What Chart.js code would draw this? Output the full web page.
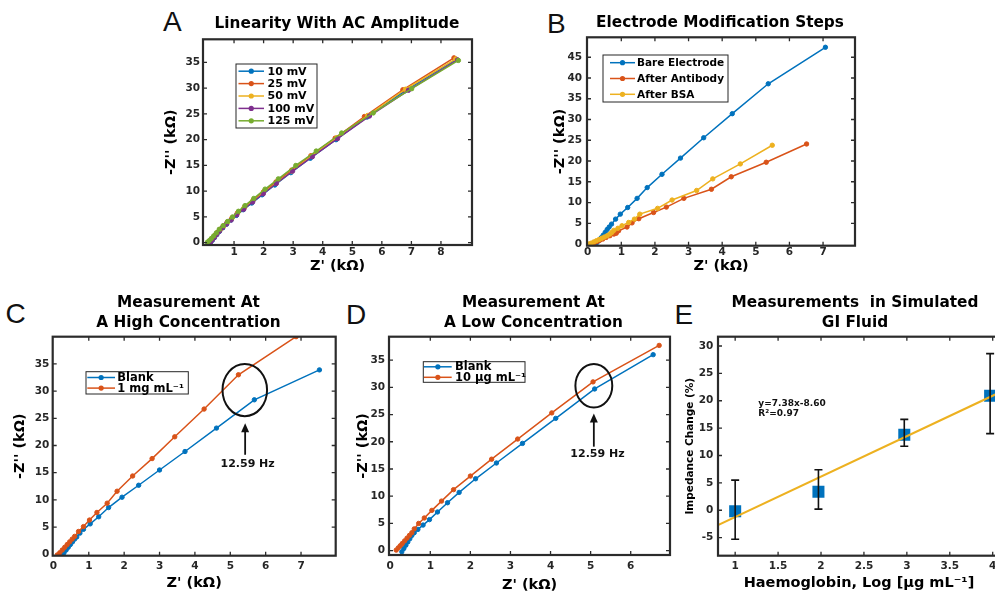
<!DOCTYPE html>
<html><head><meta charset="utf-8">
<script src="https://cdn.jsdelivr.net/npm/chart.js@4.4.1/dist/chart.umd.min.js"></script>
<style>
html,body{margin:0;padding:0;background:#fff;width:995px;height:591px;overflow:hidden;position:relative}
canvas{position:absolute}
.lt{position:absolute;font-family:"Liberation Sans",Arial,sans-serif;font-size:28px;line-height:28px;color:#111;white-space:nowrap}
</style></head><body>
<div class="lt" style="left:163px;top:8.3px">A</div>
<div class="lt" style="left:547px;top:9.6px">B</div>
<div class="lt" style="left:5.5px;top:300px">C</div>
<div class="lt" style="left:346px;top:301px">D</div>
<div class="lt" style="left:674.5px;top:301px">E</div>
<canvas id="cA"></canvas>
<canvas id="cB"></canvas>
<canvas id="cC"></canvas>
<canvas id="cD"></canvas>
<canvas id="cE"></canvas>
<script>
// ---------- Panel A: Linearity With AC Amplitude ----------
const ampLabels = ['10 mV','25 mV','50 mV','100 mV','125 mV'];
const a10x  = [0.21,0.27,0.34,0.42,0.51,0.62,0.75,0.90,1.08,1.31,1.60,1.95,2.38,2.92,3.58,4.45,5.50,6.78,8.52];
const a10y  = [0.1,0.5,1.0,1.6,2.2,2.9,3.6,4.4,5.3,6.4,7.7,9.3,11.2,13.6,16.4,20.0,24.4,29.5,35.6];
const a25x  = [0.18,0.23,0.29,0.36,0.44,0.53,0.64,0.77,0.93,1.12,1.36,1.65,2.00,2.42,2.95,3.60,4.42,5.41,6.71,8.44];
const a25y  = [0.1,0.5,0.95,1.45,2.0,2.6,3.25,4.0,4.8,5.8,6.95,8.3,9.9,11.8,14.1,16.9,20.3,24.5,29.7,35.9];
const a50x  = [0.20,0.27,0.34,0.42,0.52,0.63,0.76,0.91,1.10,1.33,1.62,1.98,2.42,2.96,3.62,4.48,5.52,6.80,8.50];
const a50y  = [0.2,0.7,1.2,1.8,2.4,3.1,3.8,4.6,5.6,6.7,8.0,9.6,11.5,13.9,16.8,20.4,24.7,29.8,35.7];
const a100x = [0.20,0.26,0.33,0.41,0.50,0.61,0.74,0.90,1.09,1.33,1.63,1.99,2.43,2.98,3.65,4.50,5.58,6.90,8.56];
const a100y = [0.1,0.5,1.0,1.6,2.2,2.9,3.6,4.4,5.4,6.5,7.9,9.5,11.5,13.9,16.7,20.2,24.6,29.6,35.5];
const a125x = [0.10,0.16,0.23,0.31,0.40,0.50,0.63,0.78,0.95,1.15,1.37,1.67,2.05,2.50,3.09,3.78,4.64,5.71,7.01,8.59];
const a125y = [0.1,0.4,0.8,1.3,1.9,2.6,3.3,4.1,5.0,6.1,7.2,8.6,10.4,12.4,15.0,17.8,21.3,25.2,29.9,35.4];
const tickAx = [1,2,3,4,5,6,7,8];
const tickAy = [0,5,10,15,20,25,30,35];

// ---------- Panel B: Electrode Modification Steps ----------
const stepLabels = ['Bare Electrode','After Antibody','After BSA'];
const bBareX = [0.22,0.28,0.34,0.40,0.46,0.52,0.58,0.64,0.71,0.83,0.97,1.19,1.47,1.77,2.21,2.76,3.45,4.30,5.37,7.07];
const bBareY = [0.0,0.4,0.9,1.5,2.1,2.8,3.5,4.1,4.8,6.0,7.2,8.8,11.0,13.6,16.8,20.7,25.6,31.4,38.6,47.4];
const bAbX   = [0.12,0.20,0.28,0.36,0.45,0.55,0.66,0.78,0.85,0.92,1.17,1.32,1.52,1.96,2.34,2.86,3.68,4.27,5.31,6.51];
const bAbY   = [0.0,0.3,0.6,0.9,1.2,1.6,2.0,2.4,2.6,3.2,4.1,5.1,6.1,7.6,8.9,11.0,13.2,16.2,19.7,24.1];
const bBsaX  = [0.02,0.10,0.18,0.26,0.34,0.42,0.50,0.58,0.66,0.72,0.78,0.90,1.02,1.22,1.39,1.55,2.08,2.51,3.24,3.72,4.54,5.49];
const bBsaY  = [0.0,0.2,0.5,0.8,1.1,1.4,1.7,2.0,2.4,2.8,3.3,3.8,4.4,5.2,6.0,7.2,8.6,10.6,12.9,15.7,19.3,23.8];
const tickBx = [0,1,2,3,4,5,6,7];
const tickBy = [0,5,10,15,20,25,30,35,40,45];

// ---------- Panel C: High concentration ----------
const cLabels = ['Blank','1 mg mL⁻¹'];
const cBlankX = [0.24,0.30,0.36,0.42,0.48,0.54,0.60,0.66,0.75,0.85,1.04,1.28,1.56,1.94,2.41,3.00,3.72,4.61,5.68,7.52];
const cBlankY = [-0.2,0.3,0.8,1.3,1.8,2.3,2.8,3.2,3.9,4.6,5.6,6.9,8.6,10.5,12.7,15.5,18.9,23.2,28.4,33.9];
const cHighX  = [0.11,0.18,0.25,0.32,0.39,0.46,0.53,0.60,0.71,0.85,1.02,1.23,1.52,1.80,2.24,2.79,3.43,4.26,5.23,6.86];
const cHighY  = [-0.1,0.3,0.8,1.3,1.8,2.3,2.8,3.3,4.2,5.1,6.3,7.7,9.4,11.6,14.4,17.6,21.6,26.7,33.0,40.0];
const tickCx = [0,1,2,3,4,5,6,7];
const tickCy = [0,5,10,15,20,25,30,35];

// ---------- Panel D: Low concentration ----------
const dLabels = ['Blank','10 µg mL⁻¹'];
const dBlankX = [0.29,0.34,0.39,0.44,0.49,0.54,0.60,0.69,0.82,0.98,1.18,1.43,1.72,2.13,2.65,3.30,4.13,5.10,6.56];
const dBlankY = [-0.2,0.4,1.0,1.6,2.2,2.8,3.3,3.9,4.7,5.7,7.1,8.8,10.7,13.2,16.1,19.7,24.3,29.7,36.0];
const dLowX   = [0.15,0.20,0.25,0.30,0.36,0.42,0.48,0.54,0.60,0.71,0.85,1.04,1.28,1.58,2.00,2.53,3.18,4.03,5.06,6.71];
const dLowY   = [0.1,0.5,0.9,1.3,1.8,2.3,2.8,3.3,4.0,5.0,6.0,7.4,9.1,11.2,13.7,16.8,20.5,25.3,31.0,37.7];
const tickDx = [0,1,2,3,4,5,6];
const tickDy = [0,5,10,15,20,25,30,35];

// ---------- Panel E: Simulated GI fluid ----------
const eX    = [1, 1.97, 2.97, 3.97];
const eY    = [-0.2, 3.4, 13.8, 20.9];
const eLow  = [-5.3, 0.2, 11.7, 14.0];
const eHigh = [5.5, 7.4, 16.6, 28.6];
const fitX  = [0.8, 4.085];
const fitY  = [-2.7, 21.55];
const tickEx = [1,1.5,2,2.5,3,3.5,4];
const tickEy = [-5,0,5,10,15,20,25,30];

// ---------- styling ----------
const MC = ['#0072BD','#D95319','#EDB120','#7E2F8E','#77AC30'];
const FONT = "'DejaVu Sans', Verdana, sans-serif";
Chart.defaults.font.family = FONT;
Chart.defaults.font.weight = 'bold';
Chart.defaults.color = '#262626';

const pts = (xs, ys) => xs.map((x, i) => ({x: x, y: ys[i]}));
const series = (label, xs, ys, color, order) => ({
  label: label, data: pts(xs, ys), showLine: true, borderColor: color, backgroundColor: color,
  borderWidth: 1.5, pointRadius: 2.2, pointBorderWidth: 1, pointBackgroundColor: color,
  pointBorderColor: color, order: order
});

const LEG = {
  cA: {dx:33, dy:24.7, w:81, h:64, first:7.2, step:12.4, l0:2.5, l1:28, tx:31.5, fs:11},
  cB: {dx:16, dy:17.7, w:125, h:47, first:7.7, step:15.8, l0:7, l1:32, tx:34, fs:10.5},
  cC: {dx:33.3, dy:35, w:102.3, h:22.3, first:5.8, step:10.6, l0:1.3, l1:29, tx:31.3, fs:11.5},
  cD: {dx:34.3, dy:25, w:101.7, h:20.6, first:5.1, step:10.5, l0:0.7, l1:28.4, tx:31.7, fs:11.5}
};
const ANNO = {
  cC: {ellipse:[5.41,30.2,0.63,4.8], arrow:[5.42,18.3,24.1], texts:[{x:5.49,y:16.6,s:'12.59 Hz',fs:11,align:'center',dy:0}]},
  cD: {ellipse:[5.08,30.3,0.46,4.0], arrow:[5.08,19.1,25.2], texts:[{x:5.17,y:17.7,s:'12.59 Hz',fs:11,align:'center',dy:0}]},
  cE: {texts:[{x:1.27,y:19.4,s:'y=7.38x-8.60',fs:9,align:'left',dy:0},{x:1.27,y:19.4,s:'R²=0.97',fs:9,align:'left',dy:10}], err:true}
};

const annoPlugin = {
  id: 'anno',
  afterDatasetsDraw(chart) {
    const o = ANNO[chart.canvas.id]; if (!o) return;
    const ctx = chart.ctx, xs = chart.scales.x, ys = chart.scales.y;
    ctx.save();
    ctx.strokeStyle = '#111'; ctx.fillStyle = '#111';
    if (o.err) {
      ctx.lineWidth = 1.6;
      eX.forEach((x, i) => {
        const px = xs.getPixelForValue(x), p0 = ys.getPixelForValue(eLow[i]), p1 = ys.getPixelForValue(eHigh[i]);
        ctx.beginPath();
        ctx.moveTo(px, p0); ctx.lineTo(px, p1);
        ctx.moveTo(px - 4, p0); ctx.lineTo(px + 4, p0);
        ctx.moveTo(px - 4, p1); ctx.lineTo(px + 4, p1);
        ctx.stroke();
      });
    }
    if (o.ellipse) {
      const [cx, cy, rx, ry] = o.ellipse;
      const pcx = xs.getPixelForValue(cx), pcy = ys.getPixelForValue(cy);
      const prx = Math.abs(xs.getPixelForValue(cx + rx) - pcx), pry = Math.abs(ys.getPixelForValue(cy + ry) - pcy);
      ctx.lineWidth = 2;
      ctx.beginPath(); ctx.ellipse(pcx, pcy, prx, pry, 0, 0, Math.PI * 2); ctx.stroke();
    }
    if (o.arrow) {
      const [ax, y0, y1] = o.arrow;
      const px = xs.getPixelForValue(ax), p0 = ys.getPixelForValue(y0), p1 = ys.getPixelForValue(y1);
      ctx.lineWidth = 1.8;
      ctx.beginPath(); ctx.moveTo(px, p0); ctx.lineTo(px, p1 + 7); ctx.stroke();
      ctx.beginPath(); ctx.moveTo(px, p1); ctx.lineTo(px - 4, p1 + 9); ctx.lineTo(px + 4, p1 + 9); ctx.closePath(); ctx.fill();
    }
    (o.texts || []).forEach(t => {
      ctx.font = 'bold ' + t.fs + 'px ' + FONT;
      ctx.textAlign = t.align; ctx.textBaseline = 'middle';
      ctx.fillText(t.s, xs.getPixelForValue(t.x), ys.getPixelForValue(t.y) + t.dy);
    });
    ctx.restore();
  }
};

const framePlugin = {
  id: 'frame',
  afterDatasetsDraw(chart) {
    const ctx = chart.ctx, a = chart.chartArea, xs = chart.scales.x, ys = chart.scales.y;
    ctx.save();
    ctx.strokeStyle = '#2b2b2b'; ctx.lineWidth = 1.3;
    const tl = 4;
    ctx.beginPath();
    xs.ticks.forEach(t => {
      const p = xs.getPixelForValue(t.value);
      if (p < a.left + 2 || p > a.right - 2) return;
      ctx.moveTo(p, a.bottom); ctx.lineTo(p, a.bottom - tl);
      ctx.moveTo(p, a.top); ctx.lineTo(p, a.top + tl);
    });
    ys.ticks.forEach(t => {
      const p = ys.getPixelForValue(t.value);
      if (p < a.top + 2 || p > a.bottom - 2) return;
      ctx.moveTo(a.left, p); ctx.lineTo(a.left + tl, p);
      ctx.moveTo(a.right, p); ctx.lineTo(a.right - tl, p);
    });
    ctx.stroke();
    ctx.lineWidth = 2.2;
    ctx.strokeRect(a.left, a.top, a.right - a.left, a.bottom - a.top);
    ctx.restore();
  }
};

const legendPlugin = {
  id: 'boxLegend',
  afterDraw(chart) {
    const o = LEG[chart.canvas.id]; if (!o) return;
    const ctx = chart.ctx, a = chart.chartArea;
    const x = a.left + o.dx, y = a.top + o.dy;
    ctx.save();
    ctx.fillStyle = '#fff'; ctx.fillRect(x, y, o.w, o.h);
    ctx.strokeStyle = '#262626'; ctx.lineWidth = 1; ctx.strokeRect(x, y, o.w, o.h);
    chart.data.datasets.forEach((d, i) => {
      const cy = y + o.first + i * o.step;
      ctx.strokeStyle = d.borderColor; ctx.lineWidth = 1.5;
      ctx.beginPath(); ctx.moveTo(x + o.l0, cy); ctx.lineTo(x + o.l1, cy); ctx.stroke();
      ctx.fillStyle = d.borderColor;
      ctx.beginPath(); ctx.arc(x + (o.l0 + o.l1) / 2, cy, 2.6, 0, Math.PI * 2); ctx.fill();
      ctx.fillStyle = '#000'; ctx.font = 'bold ' + o.fs + 'px ' + FONT;
      ctx.textAlign = 'left'; ctx.textBaseline = 'middle';
      ctx.fillText(d.label, x + o.tx, cy + 0.5);
    });
    ctx.restore();
  }
};

function build(c) {
  const cv = document.getElementById(c.id);
  const W = Math.round(2 * (c.titleCx - c.L));
  cv.width = W; cv.height = c.Hc;
  cv.style.left = c.L + 'px'; cv.style.top = c.T + 'px';
  const [pl, pt, pr, pb] = c.plot;
  const yW = pl - c.L, xH = c.T + c.Hc - pb, rW = c.L + W - pr;
  const nLines = Array.isArray(c.title) ? c.title.length : 1;
  const tFs = 15.3, tLH = tFs * 1.35;
  const tPadTop = c.titleCy - c.T - tLH / 2;
  const tPadBot = pt - c.T - tPadTop - nLines * tLH;
  const axFs = 14.5, axLH = axFs * 1.2;
  const yFs = c.yTitleFs || axFs, yLH = yFs * 1.2;
  return new Chart(cv, {
    type: 'scatter',
    data: {datasets: c.datasets},
    options: {
      responsive: false, animation: false, events: [],
      layout: {padding: 0},
      plugins: {
        legend: {display: false}, tooltip: {enabled: false},
        title: {display: true, text: c.title, color: '#000',
          font: {size: tFs, weight: 'bold', lineHeight: 1.35},
          padding: {top: tPadTop, bottom: tPadBot}}
      },
      scales: {
        x: {
          type: 'linear', position: 'bottom', min: c.xr[0], max: c.xr[1],
          afterBuildTicks: s => { s.ticks = c.xt.map(v => ({value: v})); },
          afterFit: s => { s.height = xH; },
          grid: {display: false, drawTicks: false}, border: {display: false},
          ticks: {padding: c.xPad, autoSkip: false, maxRotation: 0, color: '#262626',
            font: {size: 10.5, weight: 'bold'}, callback: v => String(v)},
          title: {display: true, text: c.xTitle, color: '#000',
            font: {size: axFs, weight: 'bold', lineHeight: 1.2},
            padding: {top: 0, bottom: c.T + c.Hc - c.xTitleCy - axLH / 2}}
        },
        y: {
          type: 'linear', position: 'left', min: c.yr[0], max: c.yr[1],
          afterBuildTicks: s => { s.ticks = c.yt.map(v => ({value: v})); },
          afterFit: s => { s.width = yW; },
          grid: {display: false, drawTicks: false}, border: {display: false},
          ticks: {padding: c.yPad, autoSkip: false, color: '#262626',
            font: {size: 10.5, weight: 'bold'}, callback: v => String(v)},
          title: {display: true, text: c.yTitle, color: '#000',
            font: {size: yFs, weight: 'bold', lineHeight: 1.2},
            padding: {top: c.yTitleCx - c.L - yLH / 2, bottom: 0}}
        },
        yr: {
          type: 'linear', position: 'right', display: true,
          afterFit: s => { s.width = rW; },
          grid: {display: false, drawTicks: false}, border: {display: false},
          ticks: {display: false}
        }
      }
    },
    plugins: [annoPlugin, framePlugin, legendPlugin]
  });
}

const zLbl = "Z' (kΩ)", zzLbl = "-Z'' (kΩ)";

build({id:'cA', L:150, T:0, Hc:279, titleCx:337, titleCy:24, plot:[203,39.3,472,245],
  title:'Linearity With AC Amplitude', xTitle:zLbl, yTitle:zzLbl, xTitleCy:266.7, yTitleCx:171,
  xr:[-0.05,9.05], yr:[-0.45,39.5], xt:tickAx, yt:tickAy, xPad:1.2, yPad:3,
  datasets:[series(ampLabels[0],a10x,a10y,MC[0],4), series(ampLabels[1],a25x,a25y,MC[1],3),
            series(ampLabels[2],a50x,a50y,MC[2],2), series(ampLabels[3],a100x,a100y,MC[3],1),
            series(ampLabels[4],a125x,a125y,MC[4],0)]});

build({id:'cB', L:540, T:0, Hc:280, titleCx:720, titleCy:23.3, plot:[587,37.3,855,245.7],
  title:'Electrode Modification Steps', xTitle:zLbl, yTitle:zzLbl, xTitleCy:266.7, yTitleCx:560,
  xr:[-0.02,7.95], yr:[-0.4,49.8], xt:tickBx, yt:tickBy, xPad:0, yPad:5,
  datasets:[series(stepLabels[0],bBareX,bBareY,MC[0],2), series(stepLabels[1],bAbX,bAbY,MC[1],1),
            series(stepLabels[2],bBsaX,bBsaY,MC[2],0)]});

build({id:'cC', L:0, T:290, Hc:310, titleCx:188.3, titleCy:302.7, plot:[52.7,336.7,335.7,555.7],
  title:['Measurement At','A High Concentration'], xTitle:zLbl, yTitle:zzLbl, xTitleCy:583.3, yTitleCx:20.7,
  xr:[-0.02,7.98], yr:[-0.25,40], xt:tickCx, yt:tickCy, xPad:4, yPad:3.4,
  datasets:[series(cLabels[0],cBlankX,cBlankY,MC[0],1), series(cLabels[1],cHighX,cHighY,MC[1],0)]});

build({id:'cD', L:345, T:290, Hc:310, titleCx:533.3, titleCy:302.7, plot:[389,336.7,670,555],
  title:['Measurement At','A Low Concentration'], xTitle:zLbl, yTitle:zzLbl, xTitleCy:585, yTitleCx:363.3,
  xr:[-0.03,6.98], yr:[-0.8,39.3], xt:tickDx, yt:tickDy, xPad:5.4, yPad:4,
  datasets:[series(dLabels[0],dBlankX,dBlankY,MC[0],1), series(dLabels[1],dLowX,dLowY,MC[1],0)]});

build({id:'cE', L:672, T:290, Hc:310, titleCx:855, titleCy:302.7, plot:[718,336.7,1000,555.7],
  title:['Measurements  in Simulated','GI Fluid'], xTitle:'Haemoglobin, Log [µg mL⁻¹]',
  yTitle:'Impedance Change (%)', yTitleFs:10.5, xTitleCy:583.3, yTitleCx:690,
  xr:[0.8,4.085], yr:[-8.3,31.7], xt:tickEx, yt:tickEy, xPad:4, yPad:4.7,
  datasets:[
    {label:'Impedance change', data:pts(eX,eY), showLine:false, pointStyle:'rect', pointRadius:8.5,
     pointBorderWidth:0, pointBackgroundColor:MC[0], borderColor:MC[0], backgroundColor:MC[0], order:2},
    {label:'Linear fit', data:pts(fitX,fitY), showLine:true, borderColor:MC[2], backgroundColor:MC[2],
     borderWidth:2, pointRadius:0, order:1}
  ]});
</script>
</body></html>
